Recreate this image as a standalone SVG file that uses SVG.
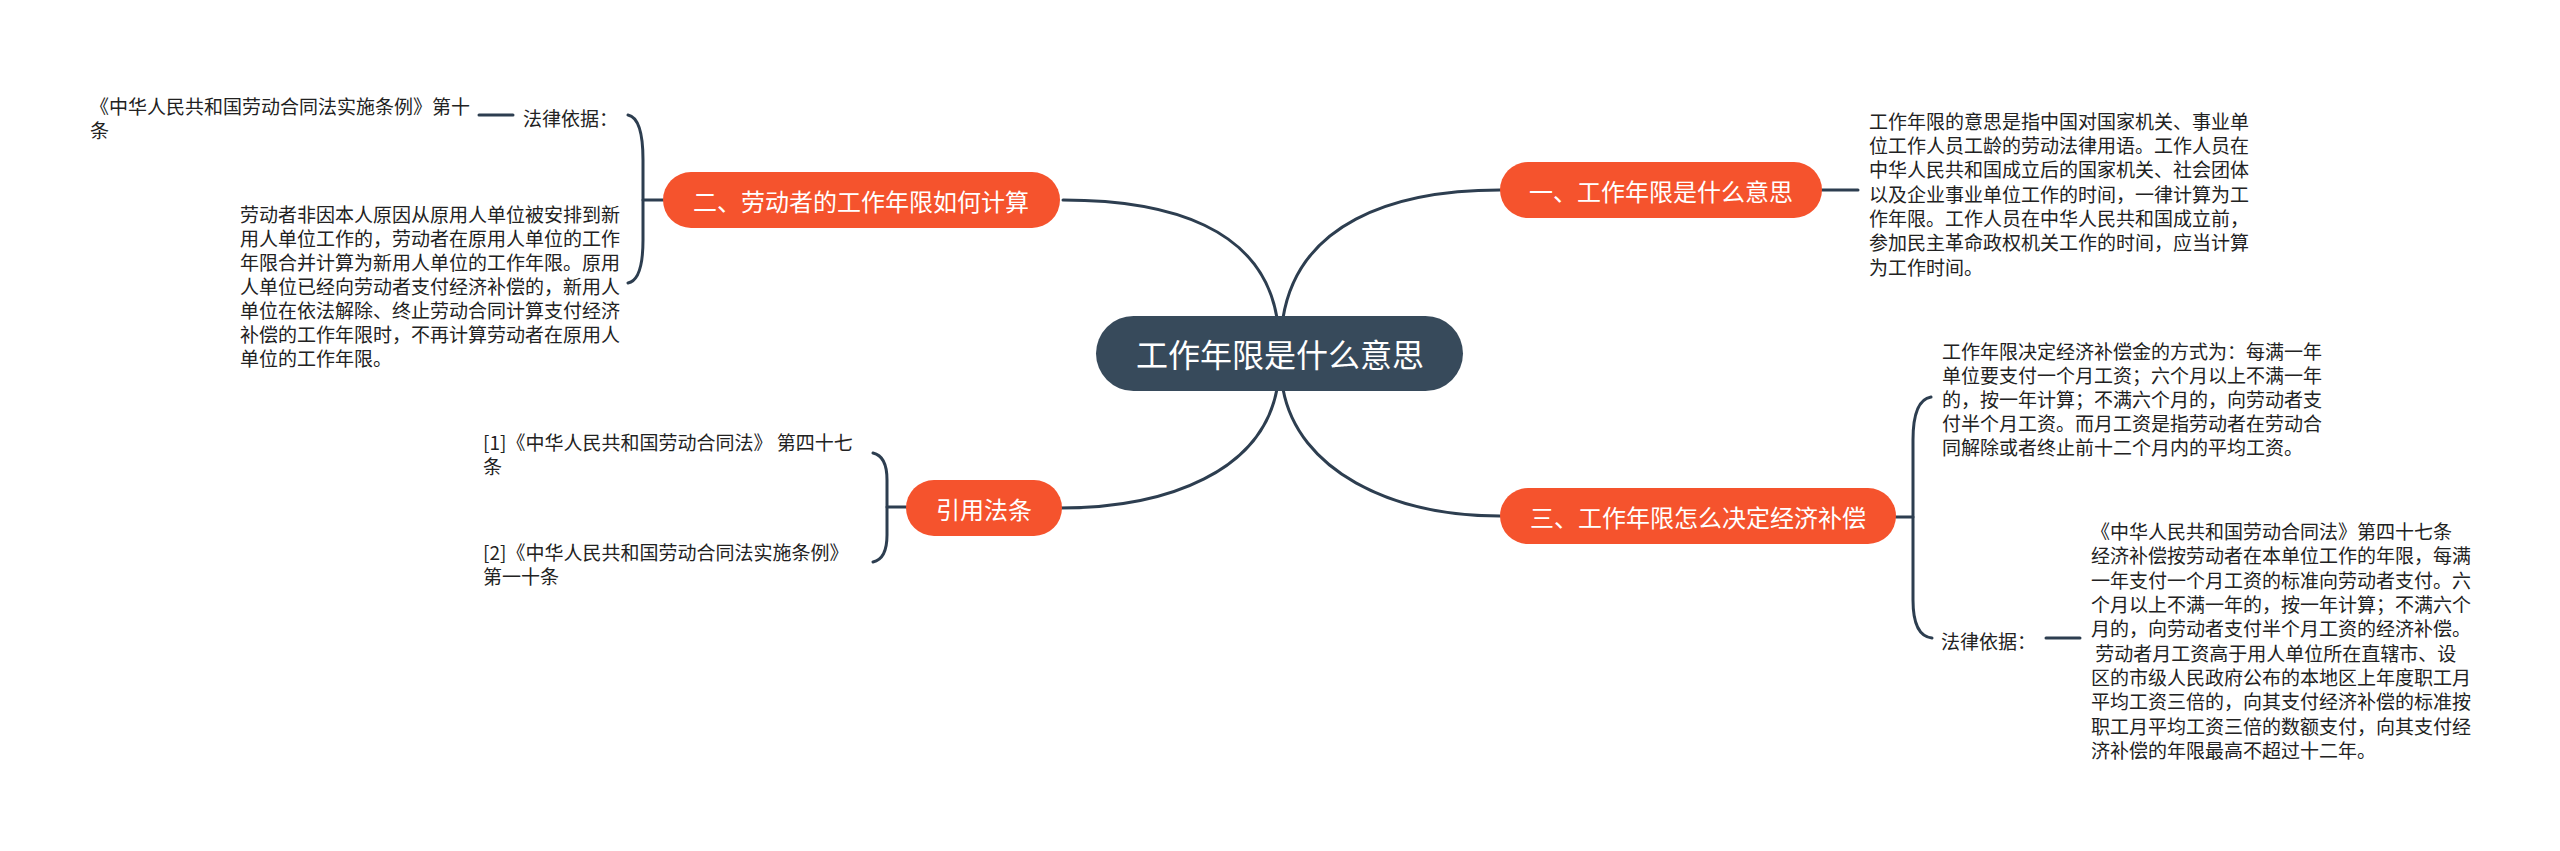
<svg xmlns="http://www.w3.org/2000/svg" width="2560" height="851" viewBox="0 0 2560 851">
<style>
.bg{fill:#ffffff}
.link{fill:none;stroke:#2d3e50;stroke-width:3;stroke-linecap:round}
.root{fill:#374a5b}
.main{fill:#f5532d}
.rt{font-family:"Noto Sans CJK SC","Liberation Sans",sans-serif;font-size:32px;fill:#ffffff;text-anchor:middle;dominant-baseline:central}
.mt{font-family:"Noto Sans CJK SC","Liberation Sans",sans-serif;font-size:24px;fill:#ffffff;text-anchor:middle;dominant-baseline:central}
.tx{font-family:"Noto Sans CJK SC","Liberation Sans",sans-serif;font-size:19px;fill:#222222;dominant-baseline:central}
</style>
<rect class="bg" x="0" y="0" width="2560" height="851"/>
<g id="connectors">
<path class="link" d="M1283,318 C1298,225 1390,190 1500,190"/>
<path class="link" d="M1277,318 C1262,228 1170,200 1063,200"/>
<path class="link" d="M1283,389 C1298,470 1390,516 1500,516"/>
<path class="link" d="M1277,389 C1262,470 1170,508 1060,508"/>
<path class="link" d="M1822,190 L1858,190"/>
<path class="link" d="M663,200 L643,200"/>
<path class="link" d="M628,115 Q643,118 643,160 L643,240 Q643,280 628,283"/>
<path class="link" d="M513,115 L479,115"/>
<path class="link" d="M1896,517 L1913,517"/>
<path class="link" d="M1931,397 Q1913,400 1913,440 L1913,600 Q1913,636 1932,638"/>
<path class="link" d="M2046,638 L2080,638"/>
<path class="link" d="M906,507 L887,507"/>
<path class="link" d="M873,453 Q887,456 887,480 L887,535 Q887,559 873,562"/>
</g>
<g id="root">
<rect class="root" x="1096" y="316" width="367" height="75" rx="37.5"/>
<text class="rt" x="1280" y="353">工作年限是什么意思</text>
</g>
<g id="n1">
<rect class="main" x="1500" y="162" width="322" height="56" rx="28"/>
<text class="mt" x="1661" y="190">一、工作年限是什么意思</text>
</g>
<g id="n1-text">
<text class="tx" x="1869" y="120">工作年限的意思是指中国对国家机关、事业单</text>
<text class="tx" x="1869" y="144">位工作人员工龄的劳动法律用语。工作人员在</text>
<text class="tx" x="1869" y="168">中华人民共和国成立后的国家机关、社会团体</text>
<text class="tx" x="1869" y="193">以及企业事业单位工作的时间，一律计算为工</text>
<text class="tx" x="1869" y="217">作年限。工作人员在中华人民共和国成立前，</text>
<text class="tx" x="1869" y="241">参加民主革命政权机关工作的时间，应当计算</text>
<text class="tx" x="1869" y="266">为工作时间。</text>
</g>
<g id="n2">
<rect class="main" x="663" y="172" width="397" height="56" rx="28"/>
<text class="mt" x="861" y="200">二、劳动者的工作年限如何计算</text>
</g>
<g id="n2-basis">
<text class="tx" x="523" y="117">法律依据：</text>
</g>
<g id="n2-basis-text">
<text class="tx" x="90" y="105">《中华人民共和国劳动合同法实施条例》第十</text>
<text class="tx" x="90" y="129">条</text>
</g>
<g id="n2-text">
<text class="tx" x="240" y="213">劳动者非因本人原因从原用人单位被安排到新</text>
<text class="tx" x="240" y="237">用人单位工作的，劳动者在原用人单位的工作</text>
<text class="tx" x="240" y="261">年限合并计算为新用人单位的工作年限。原用</text>
<text class="tx" x="240" y="285">人单位已经向劳动者支付经济补偿的，新用人</text>
<text class="tx" x="240" y="309">单位在依法解除、终止劳动合同计算支付经济</text>
<text class="tx" x="240" y="333">补偿的工作年限时，不再计算劳动者在原用人</text>
<text class="tx" x="240" y="357">单位的工作年限。</text>
</g>
<g id="n3">
<rect class="main" x="1500" y="488" width="396" height="56" rx="28"/>
<text class="mt" x="1698" y="516">三、工作年限怎么决定经济补偿</text>
</g>
<g id="n3-text">
<text class="tx" x="1942" y="350">工作年限决定经济补偿金的方式为：每满一年</text>
<text class="tx" x="1942" y="374">单位要支付一个月工资；六个月以上不满一年</text>
<text class="tx" x="1942" y="398">的，按一年计算；不满六个月的，向劳动者支</text>
<text class="tx" x="1942" y="422">付半个月工资。而月工资是指劳动者在劳动合</text>
<text class="tx" x="1942" y="446">同解除或者终止前十二个月内的平均工资。</text>
</g>
<g id="n3-basis">
<text class="tx" x="1941" y="640">法律依据：</text>
</g>
<g id="n3-basis-text">
<text class="tx" x="2091" y="530">《中华人民共和国劳动合同法》第四十七条</text>
<text class="tx" x="2091" y="554">经济补偿按劳动者在本单位工作的年限，每满</text>
<text class="tx" x="2091" y="579">一年支付一个月工资的标准向劳动者支付。六</text>
<text class="tx" x="2091" y="603">个月以上不满一年的，按一年计算；不满六个</text>
<text class="tx" x="2091" y="627">月的，向劳动者支付半个月工资的经济补偿。</text>
<text class="tx" x="2091" y="652" xml:space="preserve"> 劳动者月工资高于用人单位所在直辖市、设</text>
<text class="tx" x="2091" y="676">区的市级人民政府公布的本地区上年度职工月</text>
<text class="tx" x="2091" y="700">平均工资三倍的，向其支付经济补偿的标准按</text>
<text class="tx" x="2091" y="725">职工月平均工资三倍的数额支付，向其支付经</text>
<text class="tx" x="2091" y="749">济补偿的年限最高不超过十二年。</text>
</g>
<g id="n4">
<rect class="main" x="906" y="480" width="156" height="56" rx="28"/>
<text class="mt" x="984" y="508">引用法条</text>
</g>
<g id="n4-ref1">
<text class="tx" x="483" y="441">[1]《中华人民共和国劳动合同法》 第四十七</text>
<text class="tx" x="483" y="465">条</text>
</g>
<g id="n4-ref2">
<text class="tx" x="483" y="551">[2]《中华人民共和国劳动合同法实施条例》</text>
<text class="tx" x="483" y="575">第一十条</text>
</g>
</svg>
